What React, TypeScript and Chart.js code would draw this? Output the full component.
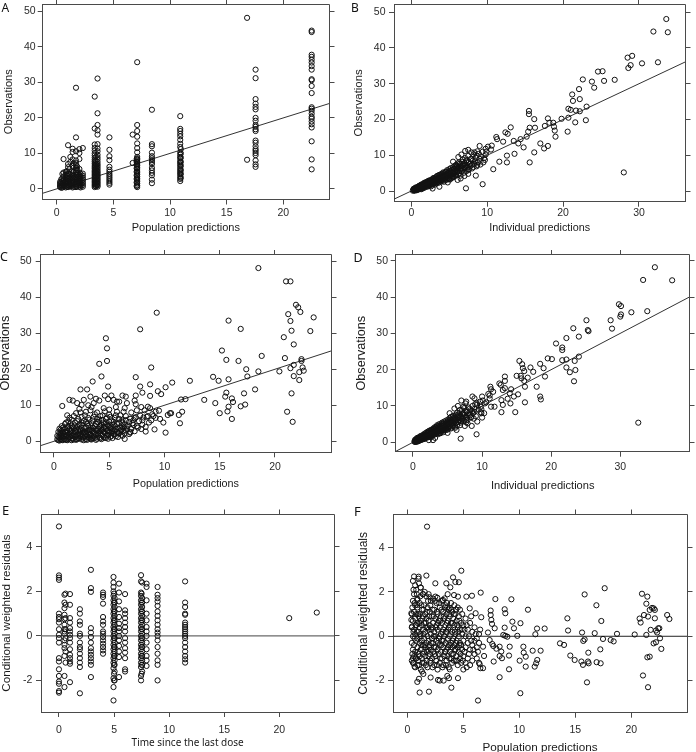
import React, { useEffect, useRef } from "react";
import { Chart, registerables } from "chart.js";

Chart.register(...registerables);

type Pair = [number, number];

// ---------------- Data ----------------
const ticksTo20 = [0, 5, 10, 15, 20];
const ticksTo30 = [0, 10, 20, 30];
const obsTicks = [0, 10, 20, 30, 40, 50];
const cwresTicks = [-2, 0, 2, 4];
const identitySpan = [-10, 60];
const zeroSpan = [-10, 40];

// Panel A: population predictions (base model) take discrete levels
const aPredLevels = [0.3, 0.4, 0.5, 0.6, 0.8, 0.9, 1.0, 1.1, 1.2, 1.4, 1.5, 1.7, 1.8, 2.0, 2.1, 2.3, 3.35, 3.45, 3.5, 3.6, 4.65, 6.7, 7.05, 7.1, 8.4, 10.9, 10.95, 16.8, 17.55, 22.5];
const aObsByLevel: number[][] = [
  [0.5, 0.8, 1.2, 1.6, 2.0],
  [0.3, 1.0, 1.9, 2.7],
  [0.4, 0.9, 1.5, 2.2, 3.0, 4.2],
  [0.6, 1.1, 1.8, 2.6, 3.5, 4.6, 8.4],
  [0.4, 0.8, 1.4, 2.1, 2.9, 3.9, 4.8],
  [0.6, 1.2, 2.0, 3.1, 4.0, 5.0],
  [0.5, 1.0, 1.6, 2.2, 2.8, 3.6, 4.4, 6.1, 7.0, 12.3],
  [0.8, 1.5, 2.4, 3.0, 4.3, 5.5],
  [0.7, 1.3, 1.9, 2.6, 3.3, 4.1, 7.6, 9.0],
  [0.4, 0.9, 1.6, 2.4, 3.2, 4.0, 5.1, 6.5, 8.3, 10.4, 11.3],
  [0.6, 1.3, 2.0, 2.9, 3.7, 4.8, 6.0, 7.2],
  [0.5, 0.9, 1.4, 1.9, 2.4, 2.9, 3.4, 4.0, 4.6, 5.2, 5.8, 6.6, 7.2, 8.0, 10.6, 14.5, 28.5],
  [0.7, 1.2, 1.7, 2.2, 2.7, 3.3, 3.9, 4.4, 5.4, 6.3],
  [0.6, 1.1, 1.6, 2.1, 2.6, 3.2, 3.8, 4.6, 5.6, 8.4, 10.1, 11.2],
  [0.4, 0.9, 1.4, 1.9, 2.4, 2.9, 3.5, 4.2],
  [0.6, 1.1, 1.6, 2.1, 2.6, 3.1, 3.7, 4.3, 11.5],
  [0.5, 0.9, 1.3, 1.7, 2.1, 2.5, 2.9, 3.3, 3.7, 4.1, 4.5, 4.9, 5.3, 5.8, 6.2, 6.7, 7.2, 7.7, 8.2, 8.8, 9.4, 10.0, 10.8, 11.5, 12.5, 17.0, 26.0],
  [0.7, 1.5, 2.3, 3.1, 3.9, 4.7, 5.6, 6.4, 7.0, 7.9, 9.0],
  [1.1, 1.9, 2.7, 3.5, 4.3, 5.1, 6.0, 6.8],
  [0.6, 1.0, 1.4, 1.8, 2.2, 2.6, 3.0, 3.4, 3.8, 4.2, 4.6, 5.0, 5.5, 6.0, 6.5, 7.0, 7.6, 8.3, 8.9, 9.6, 10.6, 11.4, 12.6, 15.3, 16.5, 18.0, 21.3, 31.1],
  [1.2, 1.7, 2.2, 2.7, 3.2, 3.7, 4.2, 4.8, 5.4, 6.2, 8.1, 9.2, 11.0, 14.5],
  [7.3, 15.3],
  [0.8, 1.8, 2.8, 3.8, 4.8, 5.8, 6.8, 7.6, 8.4],
  [0.5, 1.0, 1.5, 2.0, 2.5, 3.0, 3.5, 4.0, 4.5, 5.0, 5.6, 6.1, 6.6, 7.0, 7.4, 7.8, 8.2, 8.6, 9.0, 10.3, 11.5, 12.8, 14.7, 16.3, 18.0, 35.7],
  [1.6, 2.6, 3.8, 4.5, 5.2, 5.9, 7.0, 7.6, 8.1, 8.6, 9.2, 10.2, 12.0, 12.6, 22.3],
  [2.2, 2.8, 3.4, 4.0, 4.5, 5.0, 5.6, 6.2, 6.8, 7.3, 7.8, 8.5, 9.0, 9.6, 10.3, 11.8, 12.7, 13.8, 14.8, 15.5, 16.3, 16.9, 20.5],
  [3.1, 4.2, 5.3, 6.5, 7.6, 8.8, 10.0, 11.2],
  [8.2, 48.2],
  [6.2, 6.9, 8.0, 9.5, 10.1, 10.7, 11.2, 12.0, 13.0, 13.6, 16.3, 16.8, 17.5, 18.0, 19.2, 20.0, 22.4, 23.1, 24.0, 25.3, 31.2, 33.6],
  [5.5, 8.3, 13.4, 17.3, 18.2, 19.0, 19.8, 20.3, 21.2, 22.0, 22.6, 23.0, 27.0, 29.0, 30.6, 30.9, 33.6, 34.6, 35.6, 36.4, 37.2, 37.8, 44.2, 44.6],
];

// Panel B: individual predictions (base model) vs observations
const bIpredObs: Pair[] = [
  [33.6, 48.1], [31.9, 44.6], [33.8, 44.4], [28.5, 37.3], [29.1, 37.8], [28.6, 34.4], [28.9, 35.2], [30.4, 35.7], [32.5, 36.0],
  [24.6, 33.4], [25.2, 33.5], [22.6, 31.2], [23.8, 30.6], [25.4, 30.8], [26.8, 31.1], [24.1, 28.9], [22.1, 28.5], [21.2, 27.0],
  [22.2, 25.7], [21.3, 25.2], [23.1, 23.6], [20.7, 23.0], [21.0, 22.7], [21.7, 22.5], [22.2, 22.3], [19.8, 20.2], [20.7, 20.5],
  [21.6, 19.2], [23.0, 19.8], [15.5, 22.4], [15.5, 21.5], [16.2, 20.1], [18.0, 20.3], [18.7, 19.1], [18.8, 18.0], [15.6, 17.7],
  [16.3, 17.7], [17.6, 18.2], [18.2, 19.1], [28.0, 5.2],
  [13.1, 17.8], [12.4, 16.4], [12.7, 16.0], [11.2, 15.1], [11.3, 14.5], [12.1, 13.8], [13.5, 14.0], [14.1, 13.3], [14.4, 14.5],
  [15.2, 15.2], [15.4, 16.6], [14.8, 12.2], [13.6, 10.4], [12.6, 9.9], [12.6, 8.0], [11.6, 8.2], [10.8, 6.1], [10.1, 12.4],
  [10.6, 12.7], [10.5, 11.6], [9.8, 11.8], [9.9, 11.0], [9.0, 12.6], [8.7, 11.1], [7.5, 11.5], [7.1, 11.2], [7.9, 10.8],
  [8.6, 9.9], [9.7, 8.7], [9.5, 8.0], [8.5, 4.3], [9.4, 1.9], [7.2, 0.75], [4.8, 2.4], [6.1, 3.1], [7.5, 5.9], [15.6, 8.0],
  [16.2, 10.8], [17.0, 13.3], [17.5, 11.9], [18.0, 12.6], [18.9, 16.9], [19.0, 15.2], [20.6, 16.6],
  [0.2, 0.1], [0.3, 0.3], [0.3, 0.5], [0.4, 0.2], [0.4, 0.6], [0.5, 0.4], [0.5, 0.8], [0.6, 0.3], [0.6, 0.7], [0.7, 0.5],
  [0.7, 0.9], [0.8, 0.6], [0.8, 1.1], [0.9, 0.4], [0.9, 0.8], [1.0, 1.0], [1.0, 1.4], [1.1, 0.7], [1.1, 1.2], [1.2, 0.9],
  [1.2, 1.5], [1.3, 1.2], [1.3, 1.8], [1.4, 0.8], [1.4, 1.4], [1.5, 1.1], [1.5, 1.7], [1.6, 1.5], [1.6, 2.0], [1.7, 1.2],
  [1.7, 1.8], [1.8, 1.5], [1.8, 2.2], [1.9, 1.8], [2.0, 1.3], [2.0, 2.1], [2.1, 2.5], [2.2, 1.8], [2.2, 2.3], [2.3, 2.0],
  [2.4, 2.7], [2.4, 1.5], [2.5, 2.3], [2.6, 3.0], [2.6, 2.0], [2.7, 2.6], [2.8, 3.3], [2.8, 0.7], [2.9, 2.4], [3.0, 3.0],
  [3.0, 3.6], [3.1, 2.2], [3.2, 3.3], [3.2, 2.8], [3.3, 3.9], [3.4, 3.0], [3.4, 2.4], [3.5, 3.6], [3.5, 4.3], [3.6, 3.2],
  [3.7, 1.2], [3.7, 3.9], [3.8, 2.8], [3.8, 4.6], [3.9, 3.5], [4.0, 4.2], [4.0, 3.0], [4.1, 4.9], [4.2, 3.8], [4.2, 4.4],
  [4.3, 2.6], [4.4, 4.1], [4.4, 5.0], [4.5, 3.5], [4.6, 4.6], [4.6, 5.4], [4.7, 3.9], [4.8, 4.9], [4.9, 4.3], [5.0, 5.6],
  [5.0, 3.4], [5.1, 5.0], [5.2, 4.4], [5.3, 5.9], [5.4, 5.2], [5.4, 3.8], [5.5, 4.7], [5.6, 6.2], [5.7, 5.5], [5.8, 4.3],
  [5.9, 6.6], [6.0, 5.2], [6.0, 7.0], [6.1, 5.9], [6.2, 4.6], [6.3, 6.8], [6.4, 7.6], [6.4, 5.6], [6.5, 3.5], [6.6, 6.4],
  [6.7, 8.2], [6.8, 7.2], [6.9, 5.1], [7.0, 7.8], [7.1, 9.2], [7.2, 6.6], [7.3, 8.6], [7.4, 7.2], [7.5, 4.8], [7.6, 8.1],
  [7.8, 7.0], [7.9, 9.0], [8.0, 6.3], [8.1, 8.5], [8.2, 10.2], [8.3, 7.6], [8.5, 9.3], [8.6, 6.9], [8.8, 8.0], [8.9, 10.4],
  [9.1, 7.4], [9.2, 9.6], [9.4, 11.0], [9.6, 9.2], [9.8, 10.2],
];
const bBand: Pair[] = [
  [0.3, 0.6], [0.4, 0.1], [0.5, 0.2], [0.5, 0.6], [0.6, 1.0], [0.7, 0.2], [0.8, 0.4], [0.8, 0.9], [0.9, 1.1], [1.0, 0.5],
  [1.0, 0.7], [1.1, 1.5], [1.2, 0.6], [1.2, 1.2], [1.3, 0.5], [1.3, 1.4], [1.4, 1.1], [1.4, 1.8], [1.5, 0.7], [1.5, 1.4],
  [1.6, 1.1], [1.6, 1.8], [1.7, 0.9], [1.7, 1.5], [1.7, 2.3], [1.8, 1.2], [1.8, 1.9], [1.9, 1.5], [1.9, 2.4], [2.0, 1.6],
  [2.0, 2.5], [2.1, 1.2], [2.1, 2.0], [2.2, 1.5], [2.2, 2.8], [2.3, 1.6], [2.3, 2.4], [2.4, 2.0], [2.4, 3.0], [2.5, 1.7],
  [2.5, 2.8], [2.6, 2.4], [2.6, 1.3], [2.7, 2.1], [2.7, 3.2], [2.8, 1.8], [2.8, 2.7], [2.9, 2.9], [2.9, 3.6], [3.0, 2.2],
  [3.0, 2.6], [3.1, 3.4], [3.1, 1.8], [3.2, 2.5], [3.2, 3.8], [3.3, 3.0], [3.3, 2.1], [3.4, 3.5], [3.4, 4.2], [3.5, 2.7],
  [3.5, 3.1], [3.6, 3.8], [3.6, 2.3], [3.7, 3.3], [3.7, 4.5], [3.8, 3.0], [3.8, 3.7], [3.9, 4.1], [3.9, 2.6], [4.0, 3.6],
  [4.0, 4.7], [4.1, 3.3], [4.1, 4.1], [4.2, 2.9], [4.2, 5.2], [4.3, 3.7], [4.3, 4.3], [4.4, 3.4], [4.5, 4.4], [4.5, 5.3],
  [4.6, 3.1], [4.6, 4.0], [4.7, 4.6], [4.7, 5.8], [4.8, 3.6], [4.8, 4.3], [4.9, 5.1], [4.9, 3.3], [5.0, 4.6], [5.0, 6.1],
  [5.1, 4.1], [5.1, 3.2], [5.2, 5.3], [5.2, 6.4], [5.3, 4.6], [5.3, 3.6], [5.4, 5.7], [5.5, 4.2], [5.5, 6.6], [5.6, 5.0],
  [5.6, 3.9], [5.7, 6.1], [5.7, 7.0], [5.8, 5.2], [5.9, 4.5], [5.9, 7.3], [6.0, 6.2], [6.1, 5.4], [6.1, 7.7], [6.2, 6.6],
  [6.3, 5.0], [6.3, 8.0], [6.4, 6.2], [6.5, 7.2], [6.5, 4.3], [6.6, 5.6], [6.7, 7.0], [6.8, 6.0], [6.8, 8.8], [6.9, 7.6],
  [7.0, 6.4], [7.0, 4.2], [7.1, 7.2], [7.2, 8.3], [7.3, 5.6], [7.4, 6.5], [7.5, 9.8], [7.6, 6.1], [7.7, 7.6], [7.8, 8.9],
  [8.0, 7.4], [8.2, 6.7], [8.4, 8.3], [8.7, 7.3], [9.0, 9.0], [8.3, 10.8], [6.2, 9.5], [5.5, 8.2], [6.6, 10.2],
];

// Panel C: population predictions (final model) vs observations
const cPredObs: Pair[] = [
  [18.5, 48.1], [21.0, 44.4], [21.4, 44.4], [21.9, 37.9], [22.1, 37.2], [22.3, 35.9], [21.2, 35.3], [21.4, 33.4], [21.5, 30.7],
  [20.8, 28.9], [21.7, 26.9], [23.5, 34.4], [23.2, 30.6], [18.8, 23.7], [20.9, 23.1], [22.4, 22.8], [22.4, 22.3], [21.7, 21.2],
  [21.4, 20.3], [20.4, 19.4], [22.5, 20.5], [22.6, 19.6], [22.2, 19.2], [21.7, 18.1], [22.2, 17.0], [21.5, 13.3], [21.1, 8.2],
  [21.6, 5.4], [18.5, 19.4], [18.2, 14.4], [17.2, 13.3], [17.5, 18.0], [17.4, 20.0], [16.7, 22.3], [16.9, 31.2], [15.8, 33.5],
  [15.6, 22.6], [15.2, 25.2], [15.8, 17.2], [14.9, 16.8], [14.4, 17.9], [15.6, 13.5], [15.5, 12.4], [16.1, 11.9], [16.2, 10.9],
  [15.8, 9.6], [15.7, 8.3], [15.0, 7.8], [14.6, 10.6], [16.1, 6.2], [16.9, 9.7], [17.3, 10.2], [13.6, 11.5], [12.3, 16.8],
  [11.9, 11.7], [11.5, 11.6], [11.6, 8.2], [11.3, 7.3], [11.4, 5.0], [10.7, 16.3], [10.1, 15.0], [9.7, 13.1], [9.4, 13.9],
  [9.3, 35.7], [7.8, 31.1], [8.8, 20.5], [8.7, 15.8], [7.8, 15.2], [8.0, 13.5], [7.4, 17.8], [7.4, 12.7], [7.3, 11.3],
  [7.4, 10.3], [8.7, 12.6], [8.5, 9.6], [8.7, 9.2], [9.2, 8.2], [9.5, 8.5], [9.9, 5.2], [10.1, 2.4], [10.5, 7.8], [10.3, 7.3],
  [10.6, 7.8], [9.1, 3.3], [8.3, 2.7], [4.7, 28.6], [4.8, 25.8], [4.8, 22.3], [4.1, 21.5], [4.3, 18.0], [4.9, 15.2], [3.5, 16.6],
  [4.6, 12.7], [4.9, 11.7], [3.3, 12.4], [3.8, 11.8], [4.1, 11.3], [2.4, 14.4], [3.0, 14.4], [2.5, 10.1], [1.4, 11.5],
  [1.7, 11.3], [2.1, 10.6], [0.75, 9.8], [5.2, 12.7], [5.4, 11.5], [5.7, 11.0], [5.9, 11.0], [6.2, 12.7], [6.5, 12.4],
  [6.6, 10.6], [6.3, 8.2], [6.0, 7.2], [6.4, 0.65], [6.9, 2.4], [6.6, 4.1], [7.2, 5.9], [7.3, 6.4],
  [0.4, 0.3], [0.4, 1.2], [0.5, 2.2], [0.5, 3.5], [0.6, 0.6], [0.6, 1.6], [0.7, 2.8], [0.7, 4.2], [0.8, 0.3], [0.8, 1.1],
  [0.9, 2.0], [0.9, 3.2], [1.0, 0.6], [1.0, 4.8], [1.1, 1.4], [1.1, 2.5], [1.2, 0.3], [1.2, 3.6], [1.3, 1.0], [1.3, 5.5],
  [1.4, 2.0], [1.4, 6.5], [1.5, 0.5], [1.5, 3.0], [1.6, 1.5], [1.6, 4.3], [1.7, 0.8], [1.7, 2.4], [1.8, 3.6], [1.8, 7.0],
  [1.9, 1.2], [1.9, 5.2], [2.0, 0.4], [2.0, 2.8], [2.1, 1.8], [2.1, 4.0], [2.2, 0.9], [2.2, 6.2], [2.3, 2.4], [2.3, 3.4],
  [2.4, 1.3], [2.4, 8.0], [2.5, 0.5], [2.5, 4.6], [2.6, 2.0], [2.6, 3.0], [2.7, 1.0], [2.7, 5.6], [2.8, 2.6], [2.8, 7.2],
  [2.9, 0.6], [2.9, 3.8], [3.0, 1.6], [3.0, 4.9], [3.1, 2.3], [3.1, 6.5], [3.2, 0.9], [3.2, 3.2], [3.3, 1.8], [3.3, 8.6],
  [3.4, 4.2], [3.4, 0.5], [3.5, 2.7], [3.5, 5.8], [3.6, 1.3], [3.6, 3.6], [3.7, 7.5], [3.7, 2.1], [3.8, 0.4], [3.8, 4.8],
  [3.9, 3.0], [3.9, 6.2], [4.0, 1.6], [4.0, 5.3], [4.1, 2.5], [4.1, 3.9], [4.2, 0.8], [4.2, 7.0], [4.3, 1.9], [4.3, 4.5],
  [4.4, 3.2], [4.4, 5.9], [4.5, 1.2], [4.5, 2.6], [4.6, 8.3], [4.6, 4.0], [4.7, 0.9], [4.7, 5.2], [4.8, 3.0], [4.8, 6.6],
  [4.9, 1.8], [4.9, 4.4], [5.0, 2.4], [5.0, 7.4], [5.1, 3.6], [5.2, 1.5], [5.2, 5.8], [5.3, 2.8], [5.4, 4.6], [5.5, 1.9],
  [5.5, 6.5], [5.6, 3.4], [5.7, 8.2], [5.8, 2.2], [5.9, 5.0], [6.0, 3.8], [6.1, 1.8], [6.2, 6.0], [6.3, 2.9], [6.4, 4.7],
  [6.5, 7.0], [6.6, 3.5], [6.8, 5.4], [6.9, 2.6], [7.0, 8.0], [7.2, 4.5], [7.4, 6.6], [7.6, 3.8], [7.8, 7.2], [8.0, 5.8],
  [8.2, 8.6], [8.4, 6.8], [8.6, 5.2], [8.9, 7.5], [9.2, 6.5], [7.9, 9.5], [7.5, 8.6], [8.0, 4.6], [8.5, 7.0],
];
const cCluster: Pair[] = [
  [0.3, 0.5], [0.3, 1.5], [0.4, 2.6], [0.5, 0.2], [0.5, 1.0], [0.6, 2.0], [0.6, 3.2], [0.7, 0.4], [0.7, 1.3], [0.8, 2.3],
  [0.8, 3.8], [0.9, 0.6], [0.9, 1.5], [1.0, 2.6], [1.0, 3.6], [1.1, 0.4], [1.1, 5.2], [1.2, 1.8], [1.2, 2.8], [1.3, 0.6],
  [1.3, 4.2], [1.4, 1.2], [1.4, 3.3], [1.5, 2.2], [1.5, 5.0], [1.6, 0.3], [1.6, 2.8], [1.7, 1.6], [1.7, 3.9], [1.8, 0.5],
  [1.8, 2.0], [1.9, 2.9], [1.9, 4.4], [2.0, 1.3], [2.0, 3.6], [2.1, 0.6], [2.1, 5.6], [2.2, 2.0], [2.2, 3.0], [2.3, 0.8],
  [2.3, 4.6], [2.4, 1.8], [2.4, 2.9], [2.5, 3.8], [2.5, 6.8], [2.6, 1.1], [2.6, 5.1], [2.7, 0.3], [2.7, 2.4], [2.8, 1.4],
  [2.8, 3.6], [2.9, 2.0], [2.9, 5.4], [3.0, 0.4], [3.0, 2.9], [3.1, 1.2], [3.1, 4.3], [3.2, 2.0], [3.2, 6.0], [3.3, 0.6],
  [3.3, 3.0], [3.4, 1.5], [3.4, 5.0], [3.5, 0.8], [3.5, 3.8], [3.6, 2.4], [3.6, 6.8], [3.7, 1.0], [3.7, 4.2], [3.8, 1.9],
  [3.8, 3.0], [3.9, 0.7], [3.9, 5.4], [4.0, 2.2], [4.0, 3.5], [4.1, 1.0], [4.1, 6.0], [4.2, 2.8], [4.2, 4.3], [4.3, 0.6],
  [4.3, 3.2], [4.4, 1.6], [4.4, 7.2], [4.5, 3.8], [4.5, 5.0], [4.6, 1.0], [4.6, 2.4], [4.7, 3.4], [4.7, 6.2], [4.8, 1.6],
  [4.8, 4.6], [4.9, 0.7], [4.9, 2.8], [5.0, 3.9], [5.0, 5.4], [5.1, 1.2], [5.1, 6.8], [5.2, 2.4], [5.2, 4.0], [5.3, 3.4],
  [5.3, 0.9], [5.4, 2.0], [5.4, 5.4], [5.5, 3.0], [5.5, 4.2], [5.6, 1.4], [5.6, 7.2], [5.7, 2.6], [5.7, 4.8], [5.8, 3.6],
  [5.8, 1.2], [5.9, 2.2], [5.9, 6.2], [6.0, 2.8], [6.1, 4.4], [6.1, 3.2], [6.2, 1.5], [6.2, 5.2], [6.3, 3.8], [6.4, 2.2],
  [6.5, 5.8], [6.5, 3.0], [6.7, 4.4], [6.8, 2.0], [6.9, 6.3], [7.0, 3.4], [7.1, 5.0], [7.3, 2.8], [7.5, 4.2], [7.7, 5.6],
  [7.9, 3.4], [8.1, 6.6], [8.3, 4.0], [8.8, 5.8], [9.0, 7.0], [9.6, 6.2], [1.2, 7.2], [1.6, 6.0], [2.0, 7.8], [2.3, 9.0],
  [2.9, 8.2], [3.4, 9.5], [3.9, 8.0], [4.5, 9.2], [5.0, 8.8], [5.6, 9.5], [6.4, 9.2], [3.1, 10.0], [2.7, 11.5], [3.6, 10.6],
];

// Panel D: individual predictions (final model) vs observations
const dIpredObs: Pair[] = [
  [35.0, 48.2], [33.3, 44.7], [37.5, 44.6], [29.8, 38.0], [30.1, 37.5], [30.1, 35.2], [30.0, 34.6], [31.6, 35.8], [33.9, 36.1],
  [28.6, 33.6], [25.1, 33.6], [28.8, 31.3], [25.3, 30.9], [25.4, 30.6], [23.2, 31.4], [24.0, 29.1], [22.2, 28.7], [20.7, 27.2],
  [21.6, 26.1], [21.6, 25.4], [19.5, 23.1], [20.1, 22.9], [21.6, 22.6], [22.2, 22.8], [23.4, 22.4], [24.0, 23.6], [22.2, 20.6],
  [22.7, 19.3], [23.5, 19.9], [23.3, 16.8], [18.4, 21.6], [18.9, 20.4], [19.1, 18.1], [17.0, 20.6], [17.4, 19.4], [17.9, 15.3],
  [18.4, 12.6], [18.5, 11.8], [32.6, 5.4], [15.4, 22.4], [15.8, 21.5], [15.9, 20.4], [16.1, 19.6], [15.6, 18.3], [15.7, 17.6],
  [16.1, 16.9], [16.2, 15.3], [15.0, 18.3], [16.6, 17.8], [16.2, 11.0], [15.2, 13.2], [14.8, 8.3], [13.3, 18.1], [13.3, 16.9],
  [12.5, 16.2], [12.7, 15.8], [13.3, 14.9], [13.0, 14.4], [14.2, 14.6], [14.0, 13.5], [14.6, 12.6], [13.7, 12.0], [14.1, 10.7],
  [12.8, 11.6], [13.0, 10.3], [12.8, 8.3], [11.2, 15.3], [11.3, 14.6], [11.6, 13.9], [10.9, 13.3], [11.1, 12.9], [10.0, 12.6],
  [10.1, 11.5], [10.4, 10.7], [11.1, 12.1], [10.6, 11.0], [11.8, 9.8], [11.3, 9.8], [8.6, 12.6], [8.9, 12.1], [9.2, 10.9],
  [7.7, 11.2], [7.6, 10.7], [7.0, 11.5], [9.8, 9.8], [9.9, 9.1], [9.9, 8.0], [10.0, 6.8], [10.3, 8.0], [8.5, 4.5], [9.2, 2.2],
  [6.9, 1.0], [5.0, 2.6], [6.3, 3.4], [7.7, 6.1], [7.9, 5.2], [8.3, 7.5], [9.3, 5.7], [8.9, 8.4],
  [0.2, 0.2], [0.3, 0.4], [0.3, 0.1], [0.4, 0.5], [0.4, 0.3], [0.5, 0.7], [0.5, 0.4], [0.6, 0.5], [0.6, 0.9], [0.7, 0.4],
  [0.7, 0.8], [0.8, 1.0], [0.8, 0.6], [0.9, 1.2], [0.9, 0.7], [1.0, 0.9], [1.0, 1.3], [1.1, 1.1], [1.1, 0.6], [1.2, 1.4],
  [1.2, 1.0], [1.3, 1.6], [1.3, 0.9], [1.4, 1.3], [1.5, 1.0], [1.5, 1.8], [1.6, 1.4], [1.7, 2.0], [1.7, 1.1], [1.8, 1.7],
  [1.9, 2.2], [1.9, 1.4], [2.0, 1.9], [2.1, 2.5], [2.1, 1.5], [2.2, 2.1], [2.3, 0.6], [2.3, 2.7], [2.4, 1.8], [2.5, 2.4],
  [2.6, 3.1], [2.6, 1.9], [2.7, 2.7], [2.8, 3.4], [2.9, 0.6], [2.9, 2.3], [3.0, 3.0], [3.1, 3.7], [3.1, 2.4], [3.2, 1.2],
  [3.2, 3.2], [3.3, 4.0], [3.4, 2.8], [3.5, 3.5], [3.5, 4.4], [3.6, 3.0], [3.7, 3.8], [3.8, 4.6], [3.8, 2.5], [3.9, 3.4],
  [4.0, 4.2], [4.1, 5.0], [4.1, 3.1], [4.2, 3.8], [4.3, 4.6], [4.4, 2.8], [4.4, 5.2], [4.5, 4.0], [4.6, 4.9], [4.7, 3.5],
  [4.8, 5.4], [4.9, 4.4], [5.0, 5.0], [5.1, 5.8], [5.2, 4.2], [5.3, 5.3], [5.4, 6.2], [5.5, 3.8], [5.6, 5.6], [5.7, 4.6],
  [5.8, 6.5], [5.9, 5.2], [6.0, 7.0], [6.1, 4.0], [6.2, 6.0], [6.4, 7.4], [6.5, 5.6], [6.6, 6.6], [6.7, 8.0], [6.8, 4.7],
  [6.9, 7.2], [7.0, 5.8], [7.1, 8.8], [7.2, 6.8], [7.3, 7.8], [7.4, 9.4], [7.5, 4.5], [7.6, 7.0], [7.8, 8.4], [7.9, 6.2],
  [8.0, 9.6], [8.1, 7.6], [8.3, 8.8], [8.4, 6.8], [8.6, 10.0], [8.7, 8.0], [8.9, 9.2], [9.1, 7.2], [9.3, 10.4], [9.5, 9.0],
  [9.7, 11.2], [9.8, 8.3],
];
const dBand: Pair[] = [
  [0.3, 0.7], [0.4, 0.2], [0.5, 0.1], [0.5, 0.9], [0.6, 0.3], [0.6, 1.2], [0.7, 0.6], [0.8, 0.3], [0.8, 1.3], [0.9, 0.5],
  [0.9, 1.0], [1.0, 0.6], [1.0, 1.6], [1.1, 0.9], [1.1, 1.4], [1.2, 0.7], [1.2, 1.8], [1.3, 1.2], [1.4, 0.8], [1.4, 1.6],
  [1.5, 1.3], [1.5, 2.1], [1.6, 0.9], [1.6, 1.7], [1.7, 1.4], [1.7, 2.4], [1.8, 1.1], [1.8, 2.0], [1.9, 1.7], [1.9, 2.6],
  [2.0, 1.3], [2.0, 2.2], [2.1, 1.8], [2.1, 2.9], [2.2, 1.4], [2.2, 2.5], [2.3, 1.9], [2.3, 3.1], [2.4, 1.5], [2.4, 2.3],
  [2.5, 2.0], [2.5, 3.3], [2.6, 2.6], [2.6, 1.4], [2.7, 2.2], [2.7, 3.5], [2.8, 1.8], [2.8, 2.9], [2.9, 3.3], [2.9, 2.0],
  [3.0, 2.6], [3.0, 3.9], [3.1, 2.1], [3.1, 3.1], [3.2, 2.7], [3.2, 4.2], [3.3, 3.4], [3.3, 2.4], [3.4, 3.9], [3.4, 3.1],
  [3.5, 2.6], [3.5, 4.7], [3.6, 3.6], [3.6, 2.2], [3.7, 4.2], [3.7, 3.1], [3.8, 3.5], [3.8, 5.0], [3.9, 2.9], [3.9, 4.4],
  [4.0, 3.7], [4.0, 2.5], [4.1, 4.5], [4.1, 3.4], [4.2, 5.4], [4.2, 4.1], [4.3, 3.2], [4.3, 5.0], [4.4, 3.9], [4.4, 4.6],
  [4.5, 3.3], [4.5, 5.7], [4.6, 4.2], [4.6, 3.6], [4.7, 5.1], [4.7, 4.4], [4.8, 3.9], [4.8, 6.0], [4.9, 4.9], [4.9, 3.4],
  [5.0, 5.5], [5.0, 4.2], [5.1, 3.7], [5.1, 6.3], [5.2, 5.0], [5.3, 4.4], [5.3, 6.6], [5.4, 5.6], [5.5, 4.9], [5.5, 7.0],
  [5.6, 6.1], [5.6, 4.1], [5.7, 5.4], [5.8, 7.3], [5.8, 4.6], [5.9, 6.2], [6.0, 5.6], [6.0, 4.3], [6.1, 6.7], [6.2, 7.6],
  [6.2, 5.2], [6.3, 6.3], [6.4, 4.8], [6.4, 8.2], [6.5, 6.9], [6.6, 5.6], [6.7, 7.4], [6.8, 6.2], [6.8, 8.9], [6.9, 5.4],
  [7.0, 7.0], [7.1, 6.3], [7.2, 8.0], [7.3, 9.8], [7.4, 6.0], [7.5, 7.6], [7.6, 8.6], [7.7, 5.5], [7.8, 6.8], [8.0, 8.0],
  [8.2, 9.3], [8.4, 7.0], [8.6, 8.6], [8.8, 6.5], [9.0, 10.5], [6.0, 9.3], [5.3, 8.0], [6.5, 10.0],
];

// Panel E: time since the last dose (nominal sampling times) vs CWRES
const eTimeLevels = [0, 0.5, 0.6, 1.0, 1.9, 2.9, 4.0, 4.95, 5.0, 5.05, 5.45, 6.0, 7.45, 7.5, 7.55, 7.95, 8.95, 11.45, 20.9, 23.4];
const eCwresByLevel: number[][] = [
  [4.92, 2.72, 2.62, 2.52, 1.0, 0.85, 0.75, 0.6, 0.3, 0.05, -0.1, -0.3, -1.0, -1.15, -1.5, -1.8, -2.05, -2.15, -2.48, -2.55],
  [1.85, 1.5, 1.25, 0.95, 0.75, 0.5, 0.3, 0.2, 0.1, -0.2, -0.4, -0.55, -0.9, -1.8, -2.3],
  [1.9, 1.4, 0.8, 0.3, -0.1, -0.7, -1.2],
  [1.88, 1.4, 0.8, 0.6, 0.35, 0.2, 0.05, -0.1, -0.3, -0.6, -0.85, -1.0, -1.15, -1.25, -2.08],
  [1.2, 1.0, 0.65, 0.5, 0.1, 0.0, -0.3, -0.5, -0.6, -0.8, -1.0, -1.2, -1.4, -2.58],
  [2.97, 2.15, 1.98, 0.35, 0.15, -0.05, -0.3, -0.55, -0.7, -0.85, -1.0, -1.15, -1.3, -1.85],
  [1.95, 1.85, 1.75, 1.45, 0.85, 0.65, 0.5, 0.2, 0.1, -0.05, -0.2, -0.35, -0.5, -0.65, -0.8],
  [2.65, 2.4, 2.2, 2.0, 1.8, 1.6, 1.4, 1.2, 1.0, 0.8, 0.6, 0.4, 0.2, 0.0, -0.2, -0.4, -0.6, -0.8, -1.0, -1.2, -1.45, -1.9, -2.3, -2.9],
  [1.9, 1.5, 1.1, 0.7, 0.3, -0.1, -0.5, -0.9, -1.3, -1.7, -2.0],
  [1.7, 1.5, 1.3, 1.1, 0.9, 0.7, 0.5, 0.3, 0.1, -0.1, -0.3, -0.5, -0.7, -0.9, -1.1, -1.3, -1.6, -2.0],
  [2.35, 1.95, 1.55, 1.2, 0.85, 0.55, 0.35, 0.2, 0.0, -0.2, -0.45, -0.7, -0.95, -1.85],
  [1.88, 1.15, 1.0, 0.8, 0.6, 0.4, 0.2, -0.1, -0.3, -0.55, -0.75, -1.0, -1.5, -1.6],
  [2.73, 2.45, 1.95, 1.8, 1.6, 1.4, 1.2, 1.0, 0.8, 0.6, 0.4, 0.2, 0.0, -0.2, -0.4, -0.6, -0.8, -1.0, -1.2, -1.4, -1.8, -2.0],
  [1.9, 1.5, 1.1, 0.7, 0.3, -0.1, -0.5, -0.9, -1.3, -1.7],
  [2.4, 1.7, 1.5, 1.3, 1.1, 0.9, 0.7, 0.5, 0.3, 0.1, -0.1, -0.3, -0.5, -0.7, -0.9, -1.1, -1.3, -1.6],
  [2.35, 2.2, 1.6, 1.0, 0.7, 0.4, 0.2, 0.0, -0.3, -0.6, -0.9, -1.1, -1.35],
  [2.2, 1.85, 1.7, 1.55, 1.35, 1.1, 0.9, 0.7, 0.5, 0.3, 0.15, 0.0, -0.2, -0.5, -0.8, -1.1, -1.3, -2.0],
  [2.45, 1.5, 1.3, 1.0, 0.95, 0.6, 0.5, 0.4, 0.3, 0.2, 0.1, 0.0, -0.1, -0.3, -0.5, -0.7, -0.9, -1.05, -1.2],
  [0.8],
  [1.05],
];

// Panel F: population predictions (final model) vs CWRES
const fPredCwres: Pair[] = [
  [1.76, 4.95], [4.82, 2.96], [1.7, 2.74], [4.08, 2.66], [2.5, 2.39], [3.48, 2.39], [4.29, 2.45], [4.6, 2.44], [3.84, 2.21],
  [6.55, 1.97], [5.77, 1.83], [7.86, 1.68], [9.29, 1.67], [5.27, 1.79], [4.17, 1.86], [4.52, 1.79], [5.57, 1.26], [6.1, 1.04],
  [6.6, 0.86], [7.44, 1.16], [7.44, 0.96], [7.5, 0.74], [7.56, 0.56], [8.69, 1.22], [8.75, 1.04], [9.38, 0.66], [10.1, 0.59],
  [10.77, 1.2], [8.69, 0.39], [9.52, 0.36], [9.82, 0.02], [8.57, 0.06], [8.75, 0.02], [8.93, -0.02], [7.2, 0.17], [7.8, 0.36],
  [7.35, -0.17], [7.59, -0.35], [7.95, -0.56], [7.68, -0.44], [6.76, -0.47], [6.85, -0.89], [6.46, -1.26], [6.52, -1.44],
  [6.76, -1.44], [8.24, -0.47], [8.39, -0.69], [9.14, -0.47], [8.45, -0.99], [8.24, -0.89], [7.71, -1.14], [9.08, -0.87],
  [9.08, -1.49], [10.03, -1.1], [10.36, -0.47], [10.39, -0.74], [10.57, -0.92], [10.57, -1.37], [8.24, -1.85], [10.09, -2.57],
  [6.31, -2.9], [3.93, -2.32], [3.72, -1.89], [4.52, -1.89], [1.1, -2.54], [1.93, -2.5], [0.89, -2.06], [1.04, -1.92],
  [1.31, -1.59], [1.43, -1.7], [2.08, -1.86], [2.74, -1.97], [2.89, -2.0], [3.24, -2.0], [3.57, -1.79], [3.78, -1.49],
  [11.58, 0.35], [12.26, 0.35], [11.43, 0.09], [11.19, -0.65], [11.6, -1.07], [11.5, -1.22], [11.37, -1.37], [11.9, -0.65],
  [13.63, -0.32], [14.35, 0.26], [13.99, -0.39], [14.55, -0.87], [14.94, -1.07], [14.29, 0.81], [15.6, 0.17], [15.83, -0.14],
  [15.71, -0.21], [15.54, -1.14], [15.68, -1.29], [16.13, -1.14], [16.19, -1.22], [16.16, -0.74], [16.04, -2.08], [15.83, 1.89],
  [16.88, 1.4], [16.73, 0.14], [16.9, -1.17], [17.26, -1.22], [17.23, -0.59], [17.32, 0.69], [17.47, -0.12], [17.62, 2.17],
  [18.15, -0.17], [18.42, -0.23], [18.72, 0.11], [20.3, 0.08], [20.74, 0.8], [20.83, 0.62], [20.95, 1.92], [21.13, 0.96],
  [21.34, 0.06], [21.34, 1.47], [21.43, 1.79], [21.49, 0.89], [21.64, 1.19], [21.73, 0.29], [21.85, 1.28], [22.0, 1.26],
  [22.1, 1.19], [22.1, 0.81], [22.2, 0.26], [22.3, 0.17], [22.4, 0.36], [22.5, 0.36], [22.56, -0.09], [22.68, -0.57],
  [22.2, -0.27], [21.99, -0.32], [23.2, 0.96], [23.4, 0.78], [21.04, -1.77], [21.49, -2.3], [21.43, -0.95], [21.64, -0.92],
  [0.89, 1.64], [0.89, 1.41], [1.01, 2.69], [1.04, 2.39], [1.19, 2.2], [1.4, 1.9], [1.99, 1.76], [2.5, 1.79], [2.68, 1.74],
  [3.18, 1.64], [3.33, 1.71], [3.57, 1.31], [3.78, 1.26], [0.36, 1.04], [0.36, 0.74], [0.42, 0.44], [0.5, -0.99], [0.57, -1.22],
  [0.65, -1.37],
  [0.4, 1.0], [0.4, 0.4], [0.4, -0.3], [0.4, -1.1], [0.5, 2.5], [0.5, 1.6], [0.5, 0.7], [0.5, 0.0], [0.5, -0.6], [0.5, -1.2],
  [0.6, 2.7], [0.6, 1.9], [0.6, 1.1], [0.6, 0.3], [0.6, -0.4], [0.6, -0.9], [0.7, 2.3], [0.7, 1.4], [0.7, 0.8], [0.7, 0.1],
  [0.7, -0.7], [0.7, -1.4], [0.8, 2.1], [0.8, 1.0], [0.8, 0.5], [0.8, -0.2], [0.8, -1.0], [0.9, 1.7], [0.9, 1.3], [0.9, 0.6],
  [0.9, -0.1], [0.9, -0.5], [0.9, -1.3], [1.0, 2.6], [1.0, 0.9], [1.0, 0.2], [1.0, -0.8], [1.0, -1.1], [1.1, 1.5], [1.1, 1.0],
  [1.1, 0.4], [1.1, -0.3], [1.1, -0.9], [1.2, 2.2], [1.2, 0.7], [1.2, 0.0], [1.2, -0.6], [1.2, -1.5], [1.3, 1.2], [1.3, 0.5],
  [1.3, -0.2], [1.3, -1.0], [1.4, 1.9], [1.4, 0.9], [1.4, 0.3], [1.4, -0.4], [1.4, -0.8], [1.5, 1.4], [1.5, 0.6], [1.5, -0.1],
  [1.5, -0.7], [1.5, -1.2], [1.6, 1.0], [1.6, 0.2], [1.6, -0.5], [1.6, -0.9], [1.7, 1.8], [1.7, 0.8], [1.7, 0.4], [1.7, -0.3],
  [1.7, -1.1], [1.8, 1.3], [1.8, 0.0], [1.8, -0.6], [1.8, -1.4], [1.9, 1.9], [1.9, 0.7], [1.9, 0.3], [1.9, -0.2], [1.9, -0.9],
  [2.0, 1.1], [2.0, 0.5], [2.0, -0.4], [2.0, -0.8], [2.1, 1.6], [2.1, 0.1], [2.1, -0.6], [2.1, -1.2], [2.2, 0.9], [2.2, 0.4],
  [2.2, -0.1], [2.2, -1.0], [2.3, 1.7], [2.3, 0.6], [2.3, -0.3], [2.3, -0.7], [2.4, 1.2], [2.4, 0.2], [2.4, -0.5], [2.4, -1.3],
  [2.5, 0.8], [2.5, 0.0], [2.5, -0.9], [2.6, 1.5], [2.6, 0.5], [2.6, -0.2], [2.6, -1.1], [2.7, 1.0], [2.7, 0.3], [2.7, -0.6],
  [2.7, -1.5], [2.8, 0.7], [2.8, -0.1], [2.8, -0.8], [2.9, 1.3], [2.9, 0.4], [2.9, -0.4], [2.9, -1.2], [3.0, 0.9], [3.0, 0.1],
  [3.0, -0.7], [3.1, 1.6], [3.1, 0.6], [3.1, -0.2], [3.1, -1.0], [3.2, 1.1], [3.2, 0.3], [3.2, -0.5], [3.2, -1.3], [3.3, 0.8],
  [3.3, 0.0], [3.3, -0.9], [3.4, 1.4], [3.4, 0.5], [3.4, -0.3], [3.4, -0.7], [3.5, 1.0], [3.5, 0.2], [3.5, -0.6], [3.5, -1.1],
  [3.6, 1.9], [3.6, 0.7], [3.6, -0.1], [3.6, -0.9], [3.7, 1.2], [3.7, 0.4], [3.7, -0.4], [3.7, -1.4], [3.8, 0.9], [3.8, 0.0],
  [3.8, -0.7], [3.9, 1.5], [3.9, 0.6], [3.9, -0.3], [3.9, -1.0], [4.0, 1.1], [4.0, 0.2], [4.0, -0.5], [4.0, -1.2], [4.1, 0.8],
  [4.1, -0.1], [4.1, -0.8], [4.2, 1.4], [4.2, 0.5], [4.2, -0.4], [4.3, 1.0], [4.3, 0.1], [4.3, -0.6], [4.3, -1.1], [4.4, 0.7],
  [4.4, -0.2], [4.4, -0.9], [4.5, 1.3], [4.5, 0.4], [4.5, -0.5], [4.5, -1.3], [4.6, 0.9], [4.6, 0.0], [4.6, -0.7], [4.7, 1.2],
  [4.7, 0.3], [4.7, -0.3], [4.7, -1.0], [4.8, 0.6], [4.8, -0.4], [4.8, -1.2], [4.9, 1.0], [4.9, 0.1], [4.9, -0.6], [5.0, 0.5],
  [5.0, -0.2], [5.0, -0.9], [5.0, -1.5], [5.2, 0.8], [5.2, 0.0], [5.2, -0.5], [5.2, -1.2], [5.4, 0.3], [5.4, -0.3], [5.4, -1.0],
  [5.6, 0.6], [5.6, -0.6], [5.6, -1.3], [5.8, 0.2], [5.8, -0.4], [5.8, -1.1], [6.0, 0.4], [6.0, -0.2], [6.0, -0.8], [6.2, -0.1],
  [6.2, -0.5], [6.2, -1.0], [6.4, 0.1], [6.4, -0.3], [6.4, -1.2],
];
const fCluster: Pair[] = [
  [0.45, 1.3], [0.45, -0.8], [0.55, 0.2], [0.55, 2.1], [0.65, -0.1], [0.65, 1.5], [0.75, 0.5], [0.75, -1.0], [0.85, 1.9],
  [0.85, 0.2], [0.95, -0.7], [0.95, 1.0], [1.05, 0.6], [1.05, -1.3], [1.15, 1.8], [1.15, 0.1], [1.25, -0.4], [1.25, 1.4],
  [1.35, 0.8], [1.35, -1.2], [1.45, 0.1], [1.45, 1.2], [1.55, -0.4], [1.55, 2.0], [1.65, 0.6], [1.65, -1.3], [1.75, 1.1],
  [1.75, -0.7], [1.85, 0.4], [1.85, 1.6], [1.95, -0.5], [1.95, 0.9], [2.05, -1.1], [2.05, 1.4], [2.15, 0.3], [2.15, -0.3],
  [2.25, 1.2], [2.25, -1.4], [2.35, 0.0], [2.35, 0.9], [2.45, -0.8], [2.45, 1.6], [2.55, 0.4], [2.55, -0.5], [2.65, 1.1],
  [2.65, -1.3], [2.75, 0.6], [2.75, -0.3], [2.85, 1.5], [2.85, 0.0], [2.95, -1.0], [2.95, 0.7], [3.05, 1.2], [3.05, -0.4],
  [3.15, 0.2], [3.15, -1.4], [3.25, 0.9], [3.25, -0.2], [3.35, 1.3], [3.35, -0.7], [3.45, 0.2], [3.45, -1.3], [3.55, 0.6],
  [3.55, 1.5], [3.65, -0.5], [3.65, 0.3], [3.75, 1.0], [3.75, -1.0], [3.85, 0.3], [3.85, -0.4], [3.95, 1.2], [3.95, -0.8],
  [4.05, 0.6], [4.05, -0.2], [4.15, 1.0], [4.15, -1.1], [4.25, 0.2], [4.25, -0.6], [4.35, 1.2], [4.35, -0.3], [4.45, 0.5],
  [4.45, -1.1], [4.55, 0.2], [4.65, -0.4], [4.65, 0.7], [4.75, -0.8], [4.85, 0.3], [4.95, -1.1], [5.1, 0.3], [5.1, -0.7],
  [5.3, 0.5], [5.3, -1.4], [5.5, 0.0], [5.5, -0.8], [5.7, 0.9], [5.7, -0.2], [5.9, -0.6], [6.1, 0.1], [6.3, -0.7], [6.5, 0.3],
];

// ---------------- Rendering ----------------
const FONT = "'Liberation Sans', Arial, Helvetica, sans-serif";
const HUMANIST = "'Noto Sans', 'DejaVu Sans', sans-serif";
const FRAME = "#4a4a4a";
const TICK_TEXT = "#2b2b2b";
const TITLE_TEXT = "#1a1a1a";

type XY = { x: number; y: number };

function fromLevels(levels: number[], groups: number[][]): XY[] {
  const out: XY[] = [];
  levels.forEach((x, i) => groups[i].forEach((y) => out.push({ x, y })));
  return out;
}
function fromPairs(...lists: Pair[][]): XY[] {
  const out: XY[] = [];
  lists.forEach((l) => l.forEach(([x, y]) => out.push({ x, y })));
  return out;
}

interface Spec {
  key: string;
  letter: string;
  left: number;
  top: number;
  w: number;
  h: number;
  area: { l: number; t: number; r: number; b: number };
  xr: [number, number];
  yr: [number, number];
  xTicks: number[];
  yTicks: number[];
  xTitle: string;
  yTitle: string;
  xTitleSize: number;
  yTitleSize: number;
  xTitleFamily?: string;
  xTitleY: number;
  yTitleX: number;
  xTickPad: number;
  yTickPad: number;
  ref: "identity" | "zero";
  refColor: string;
  refWidth: number;
  letterX: number;
  letterY: number;
  letterSize: number;
  points: XY[];
}

const specs: Spec[] = [
  {
    key: "A", letter: "A", left: 0, top: 0, w: 348, h: 250,
    area: { l: 42.7, t: 4, r: 329, b: 199.5 }, xr: [-1.24, 24.03], yr: [-3.0, 52.1],
    xTicks: ticksTo20, yTicks: obsTicks, xTitle: "Population predictions", yTitle: "Observations",
    xTitleSize: 11, yTitleSize: 11, xTitleY: 227.7, yTitleX: 9.2, xTickPad: 2.5, yTickPad: 2,
    ref: "identity", refColor: "#333", refWidth: 1, letterX: 1.5, letterY: 11.6, letterSize: 12,
    points: fromLevels(aPredLevels, aObsByLevel),
  },
  {
    key: "B", letter: "B", left: 348, top: 0, w: 348, h: 250,
    area: { l: 46, t: 4, r: 337.5, b: 201.7 }, xr: [-2.28, 36.13], yr: [-2.99, 52.3],
    xTicks: ticksTo30, yTicks: obsTicks, xTitle: "Individual predictions", yTitle: "Observations",
    xTitleSize: 10.8, yTitleSize: 11.4, xTitleY: 227.7, yTitleX: 10.5, xTickPad: 0.5, yTickPad: 3.5,
    ref: "identity", refColor: "#333", refWidth: 1, letterX: 3, letterY: 11.6, letterSize: 12,
    points: fromPairs(bIpredObs, bBand),
  },
  {
    key: "C", letter: "C", left: 0, top: 250, w: 348, h: 250,
    area: { l: 40.7, t: 4, r: 331, b: 202.3 }, xr: [-1.2, 25.07], yr: [-3.06, 52.0],
    xTicks: ticksTo20, yTicks: obsTicks, xTitle: "Population predictions", yTitle: "Observations",
    xTitleSize: 10.8, yTitleSize: 12.7, xTitleY: 234.3, yTitleX: 5.8, xTickPad: 3.1, yTickPad: 4,
    ref: "identity", refColor: "#333", refWidth: 1, letterX: 0, letterY: 11, letterSize: 12.5,
    points: fromPairs(cPredObs, cCluster),
  },
  {
    key: "D", letter: "D", left: 348, top: 250, w: 348, h: 250,
    area: { l: 47.7, t: 4.7, r: 341.7, b: 201.7 }, xr: [-2.5, 40.04], yr: [-2.59, 51.65],
    xTicks: ticksTo30, yTicks: obsTicks, xTitle: "Individual predictions", yTitle: "Observations",
    xTitleSize: 11.1, yTitleSize: 12.7, xTitleY: 236, yTitleX: 13.3, xTickPad: 3.7, yTickPad: 2.7,
    ref: "identity", refColor: "#333", refWidth: 1, letterX: 5.5, letterY: 11.8, letterSize: 12.5,
    points: fromPairs(dIpredObs, dBand),
  },
  {
    key: "E", letter: "E", left: 0, top: 500, w: 348, h: 252,
    area: { l: 41, t: 14, r: 334.3, b: 212 }, xr: [-1.63, 24.99], yr: [-3.42, 5.48],
    xTicks: ticksTo20, yTicks: cwresTicks, xTitle: "Time since the last dose", yTitle: "Conditional weighted residuals",
    xTitleSize: 10, yTitleSize: 11.6, xTitleFamily: HUMANIST,
    xTitleY: 242.7, yTitleX: 6.7, xTickPad: 6.7, yTickPad: 3.7,
    ref: "zero", refColor: "#6a6a6a", refWidth: 1.4, letterX: 2, letterY: 14.5, letterSize: 13,
    points: fromLevels(eTimeLevels, eCwresByLevel),
  },
  {
    key: "F", letter: "F", left: 348, top: 500, w: 348, h: 252,
    area: { l: 45, t: 14, r: 339, b: 212.7 }, xr: [-1.28, 24.97], yr: [-3.45, 5.52],
    xTicks: ticksTo20, yTicks: cwresTicks, xTitle: "Population predictions", yTitle: "Conditional weighted residuals",
    xTitleSize: 11.7, yTitleSize: 12, xTitleY: 247.3, yTitleX: 15.3, xTickPad: 6, yTickPad: 3.3,
    ref: "zero", refColor: "#222", refWidth: 1, letterX: 6, letterY: 15.5, letterSize: 13,
    points: fromPairs(fPredCwres, fCluster),
  },
];

const alignPx = (v: number) => Math.round(v - 0.5) + 0.5;

const framePlugin = {
  id: "panelFrame",
  afterDraw(chart: any, _args: any, opts: any) {
    const { ctx, chartArea: a } = chart;
    const xs = chart.scales.x;
    const ys = chart.scales.y;
    ctx.save();
    ctx.strokeStyle = FRAME;
    ctx.lineWidth = 1;
    ctx.beginPath();
    const top = alignPx(a.top);
    const right = alignPx(a.right);
    ctx.moveTo(alignPx(a.left), top);
    ctx.lineTo(right, top);
    ctx.lineTo(right, alignPx(a.bottom));
    xs.ticks.forEach((t: any) => {
      const px = alignPx(xs.getPixelForValue(t.value));
      ctx.moveTo(px, top);
      ctx.lineTo(px, top - 5);
    });
    ys.ticks.forEach((t: any) => {
      const py = alignPx(ys.getPixelForValue(t.value));
      ctx.moveTo(right, py);
      ctx.lineTo(right + 5, py);
    });
    ctx.stroke();
    ctx.fillStyle = "#111";
    ctx.font = `${opts.size}px ${HUMANIST}`;
    ctx.textAlign = "left";
    ctx.textBaseline = "alphabetic";
    ctx.fillText(opts.letter, opts.x, opts.y);
    ctx.restore();
  },
};

function buildConfig(s: Spec): any {
  const refData =
    s.ref === "identity"
      ? identitySpan.map((v) => ({ x: v, y: v }))
      : zeroSpan.map((v) => ({ x: v, y: 0 }));
  const tickFont = { family: FONT, size: 10.5 };
  return {
    type: "scatter",
    data: {
      datasets: [
        {
          type: "line",
          data: refData,
          borderColor: s.refColor,
          borderWidth: s.refWidth,
          pointRadius: 0,
          fill: false,
          tension: 0,
          order: 2,
        },
        {
          type: "scatter",
          data: s.points,
          pointStyle: "circle",
          pointRadius: 2.6,
          pointHoverRadius: 2.6,
          pointBorderWidth: 1,
          borderColor: "#111",
          backgroundColor: "rgba(0,0,0,0)",
          order: 1,
        },
      ],
    },
    options: {
      animation: false,
      responsive: false,
      maintainAspectRatio: false,
      devicePixelRatio: 1,
      events: [],
      layout: { padding: { left: 0, top: s.area.t, right: s.w - s.area.r, bottom: 0 } },
      plugins: {
        legend: { display: false },
        tooltip: { enabled: false },
        panelFrame: { letter: s.letter, x: s.letterX, y: s.letterY, size: s.letterSize },
      },
      scales: {
        x: {
          type: "linear",
          position: "bottom",
          min: s.xr[0],
          max: s.xr[1],
          afterBuildTicks: (sc: any) => {
            sc.ticks = s.xTicks.map((v) => ({ value: v }));
          },
          afterFit: (sc: any) => {
            sc.height = s.h - s.area.b;
            sc.paddingLeft = 0;
            sc.paddingRight = 0;
          },
          grid: { drawOnChartArea: false, drawTicks: true, tickLength: 5, color: FRAME, lineWidth: 1 },
          border: { display: true, color: FRAME, width: 1 },
          ticks: { color: TICK_TEXT, font: tickFont, padding: s.xTickPad, maxRotation: 0, minRotation: 0, autoSkip: false },
          title: {
            display: true,
            text: s.xTitle,
            color: TITLE_TEXT,
            font: { family: s.xTitleFamily || FONT, size: s.xTitleSize },
            padding: { top: 0, bottom: s.h - s.xTitleY - (s.xTitleSize * 1.2) / 2 },
          },
        },
        y: {
          type: "linear",
          position: "left",
          min: s.yr[0],
          max: s.yr[1],
          afterBuildTicks: (sc: any) => {
            sc.ticks = s.yTicks.map((v) => ({ value: v }));
          },
          afterFit: (sc: any) => {
            sc.width = s.area.l;
            sc.paddingTop = 0;
            sc.paddingBottom = 0;
          },
          grid: { drawOnChartArea: false, drawTicks: true, tickLength: 5, color: FRAME, lineWidth: 1 },
          border: { display: true, color: FRAME, width: 1 },
          ticks: { color: TICK_TEXT, font: tickFont, padding: s.yTickPad, autoSkip: false },
          title: {
            display: true,
            text: s.yTitle,
            color: TITLE_TEXT,
            font: { family: FONT, size: s.yTitleSize },
            padding: { top: s.yTitleX - (s.yTitleSize * 1.2) / 2, bottom: 0 },
          },
        },
      },
    },
    plugins: [framePlugin],
  };
}

function Panel({ spec }: { spec: Spec }) {
  const ref = useRef<HTMLCanvasElement | null>(null);
  useEffect(() => {
    const canvas = ref.current;
    if (!canvas) return;
    const chart = new Chart(canvas, buildConfig(spec));
    let alive = true;
    const fonts = (document as any).fonts;
    if (fonts && fonts.load) {
      Promise.all([fonts.load("10px 'Noto Sans'"), fonts.load("11px 'Liberation Sans'")])
        .then(() => {
          if (alive) chart.update("none");
        })
        .catch(() => undefined);
    }
    return () => {
      alive = false;
      chart.destroy();
    };
  }, [spec]);
  return (
    <canvas
      ref={ref}
      width={spec.w}
      height={spec.h}
      style={{ position: "absolute", left: spec.left, top: spec.top, width: spec.w, height: spec.h, display: "block" }}
    />
  );
}

export default function App() {
  return (
    <div style={{ position: "absolute", left: 0, top: 0, width: 696, height: 752, background: "#fff", overflow: "hidden" }}>
      {specs.map((s) => (
        <Panel key={s.key} spec={s} />
      ))}
    </div>
  );
}
